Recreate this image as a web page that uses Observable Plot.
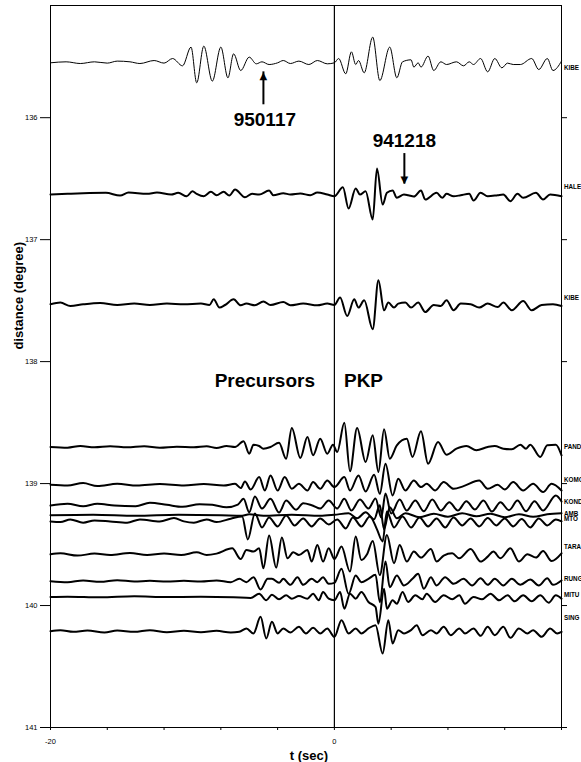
<!DOCTYPE html>
<html><head><meta charset="utf-8">
<script src="https://cdn.jsdelivr.net/npm/d3@7"></script>
<script src="https://cdn.jsdelivr.net/npm/@observablehq/plot@0.6"></script>
<style>html,body{margin:0;padding:0;background:#fff;overflow:hidden}#chart svg{display:block}</style>
</head><body><div id="chart"></div>
<script>
// Stations (as labelled at right edge), trace baseline distance (deg), label distance (deg)
const stations = ["KIBE","HALE","KIBE","PAND","KOMO","KOND","AMB","MTO","TARA","RUNG","MITU","SING"];
const baseDistance = [135.55,136.63,137.53,138.70,139.01,139.18,139.26,139.31,139.58,139.80,139.93,140.21];
const labelDistance = [135.59,136.57,137.48,138.70,138.97,139.15,139.25,139.29,139.52,139.78,139.91,140.10];
const gain = 0.0082; // degrees per amplitude count

// Traces: [time (s), amplitude (counts)] extrema read from the record
const kibe950117 = [[-20,0],[-18.9,1],[-17.9,-0.7],[-16.9,1],[-16.0,-0.3],[-15.3,1.7],[-14.4,1],[-13.7,-0.7],[-12.7,2.3],[-12.0,-0.3],[-11.4,4.3],[-10.7,-3],[-10.1,15.7],[-9.7,-20],[-9.2,16.7],[-8.6,-18.3],[-8.0,15.7],[-7.5,-15],[-7.1,9],[-6.6,-7.7],[-6.0,5.7],[-5.5,-1],[-5.1,1],[-4.6,-1.7],[-4.0,0],[-3.6,2.3],[-3.1,-0.7],[-2.5,1.7],[-1.8,-1.7],[-1.2,2.3],[-0.5,-1],[0,0],[0.3,4.3],[0.8,-11],[1.2,11],[1.5,-1.7],[1.7,2.3],[2.1,-10],[2.7,25.7],[3.2,-17.7],[3.9,15.7],[4.4,-15],[4.8,1],[5.4,3],[5.6,-4.3],[5.9,0],[6.1,-4.3],[6.6,6.7],[7.0,-7.7],[7.5,1],[7.9,-1.7],[8.6,1],[9.1,-3],[9.5,1],[9.8,-1.7],[10.3,4.3],[10.8,-9],[11.3,4.3],[11.8,-5],[12.2,-0.3],[12.6,-1.7],[13.1,-1.7],[13.9,4.3],[14.4,-6.7],[15.0,4.3],[15.4,-7.7],[16.0,1.7]];
const hale941218 = [[-20,0],[-18.8,0.7],[-17.7,1.3],[-16.1,1.7],[-15.1,-1],[-14.5,2],[-13.2,0.7],[-12.5,2],[-11.5,0],[-11.0,1.7],[-10.4,-1.7],[-10.0,3.3],[-9.7,0.7],[-9.2,-1.7],[-8.7,2.7],[-8.3,-0.7],[-7.8,2.7],[-7.4,-1],[-7.0,5],[-6.3,-2.7],[-5.8,0.7],[-5.3,0],[-4.6,4],[-4.3,-0.7],[-3.6,1.3],[-3.1,0],[-2.4,1],[-1.7,-0.7],[-1.2,2],[-0.5,0],[0,-1.7],[0.6,7.3],[1.0,-14],[1.5,6],[1.8,0],[2.2,3.3],[2.7,-25],[3.0,26],[3.4,-10],[3.7,1.7],[4.1,4],[4.4,-3.3],[4.9,0],[5.2,-0.7],[5.6,-2],[6.1,4],[6.4,-5],[7.2,1.7],[7.6,-3.3],[7.9,0.7],[8.4,-1.7],[8.9,-0.7],[9.5,0.7],[9.8,-6],[10.3,1.7],[10.8,-1.7],[11.5,-0.7],[11.9,0],[12.4,-6.7],[12.9,0.7],[13.3,-3.3],[14.2,1.7],[14.7,-5],[15.2,0],[16.0,-1.7]];
const kibe941218 = [[-20,0],[-19.3,1.7],[-18.6,-1.7],[-17.7,0],[-16.5,1.3],[-15.3,-0.7],[-14.1,0.7],[-13.0,-0.7],[-11.8,0.7],[-10.6,0],[-9.4,0.7],[-8.8,-0.7],[-8.5,5],[-8.1,-3.3],[-7.7,-0.7],[-7.1,5],[-6.6,-1],[-6.2,0.7],[-5.6,-1],[-5.0,2.7],[-4.5,-0.7],[-3.6,2.3],[-3.1,-1],[-2.2,0.7],[-1.2,-1],[-0.5,0.7],[0,-0.7],[0.4,6.7],[0.9,-11.7],[1.4,5],[1.7,-3.3],[2.1,4],[2.7,-25],[3.1,24],[3.5,-6],[3.8,1.7],[4.2,-3.3],[4.5,0.7],[5.0,1.7],[5.4,-3.3],[5.9,1.7],[6.4,-7.7],[7.0,-0.7],[7.5,-1.7],[7.9,4],[8.4,-6],[8.9,0.7],[9.6,0],[10.2,-3.3],[10.8,0.7],[11.5,-2.7],[11.9,1.7],[12.5,-6],[13.3,3.3],[13.9,-6],[14.6,-0.7],[15.4,0],[16.0,-1.7]];
const pand = [[-20,0],[-18.8,-0.7],[-17.9,1],[-16.9,-0.3],[-15.8,0.7],[-14.6,-0.3],[-13.4,0.7],[-12.3,-0.7],[-11.1,0.3],[-9.9,-0.3],[-9.0,0.7],[-8.3,-1],[-7.6,1],[-7.0,0],[-6.4,5.7],[-6.0,-6.7],[-5.7,2.3],[-5.3,1],[-5.0,-1.7],[-4.5,0],[-3.9,4.3],[-3.4,-11.7],[-3.0,19],[-2.4,-11],[-1.9,10],[-1.5,-8.3],[-1.0,8.3],[-0.5,-6.7],[-0.1,2.3],[0.2,-5],[0.7,24.3],[1.1,-24.3],[1.6,19],[2.2,-15],[2.7,11.7],[3.1,-25],[3.5,17.7],[3.9,-11.7],[4.4,1.7],[5.1,8.3],[5.5,-10],[6.1,15.7],[6.6,-16.7],[7.3,5],[7.9,-7.7],[8.6,-1.7],[9.3,1],[10.0,-3.3],[10.8,0],[11.3,1],[11.9,-1.7],[12.5,-2.3],[13.1,2.3],[13.5,-1.7],[13.8,2.3],[14.5,-10],[15.0,1.7],[15.6,2.3],[16.0,-8.3]];
const komo = [[-20,0],[-18.8,-0.7],[-17.7,1.7],[-16.7,-1.3],[-15.3,1],[-13.9,-0.7],[-12.3,0.7],[-10.6,-0.7],[-9.2,0.7],[-7.8,-0.7],[-7.0,1],[-6.6,-3.3],[-6.3,3.3],[-5.9,-4.7],[-5.3,7.7],[-4.9,-5.7],[-4.5,9.3],[-4.0,-5.7],[-3.5,7.7],[-3.0,-4],[-2.5,1],[-1.9,-5.7],[-1.5,2.7],[-1.0,-4],[-0.5,4.3],[0,-2.3],[0.7,7.7],[1.1,-5.7],[1.7,9.3],[2.2,-6.7],[2.8,10],[3.2,-9],[3.6,21],[4.1,-10.7],[4.5,6],[5.0,-5.7],[5.6,4.3],[6.1,-2.3],[6.5,1],[7.1,-5.7],[7.7,2.7],[8.4,-4],[9.1,-1.3],[10.2,4.3],[10.8,-4],[11.5,0],[12.0,-4.7],[12.6,2.7],[13.3,-5.7],[14.0,1],[14.7,-7.3],[15.3,1],[16.0,-5.7]];
const kond = [[-20,0],[-18.8,1.7],[-17.7,-0.7],[-16.7,1.7],[-15.5,0],[-14.0,-0.7],[-13.0,2.7],[-11.8,0.7],[-10.7,-1.3],[-9.5,1.3],[-8.6,0.7],[-7.6,-1.7],[-6.8,1],[-6.4,6.7],[-6.0,-6.7],[-5.6,9],[-5.1,-3],[-4.5,6.7],[-3.9,-7],[-3.4,5],[-2.7,-4.3],[-2.2,2.3],[-1.6,0.3],[-1.0,-3],[-0.4,5],[0.2,-3],[0.7,6.7],[1.2,-5],[1.8,6],[2.4,-3],[2.9,7],[3.3,-12],[3.6,12],[4.0,-8],[4.6,6],[5.1,-5],[5.7,5],[6.3,-5.7],[6.9,6],[7.5,-5],[8.1,3.3],[8.7,-5],[9.3,4.3],[9.9,-4],[10.5,5],[11.1,-6],[11.7,3.3],[12.3,-4.7],[12.9,5],[13.5,-5.7],[14.1,4.3],[14.7,-5],[15.6,10],[16.0,4]];
const amb = [[-20,0],[-17,0.5],[-14,-0.5],[-11,0.5],[-8,0],[-6.5,-0.5],[-6.0,1],[-5,-0.5],[-3,0.5],[-1,-0.5],[0,0.5],[1,2],[1.6,-3],[2.2,3],[2.8,-4],[3.2,10],[3.5,-14],[3.9,8],[4.4,-3],[5,2],[6,-2],[7,1.5],[8,-1.5],[9,2],[10,-1],[11,1.5],[12,-2],[13,1],[14,-1.5],[15,1],[16,2]];
const mto = [[-20,0],[-19.3,-0.7],[-18.6,2],[-17.7,-1.3],[-16.9,1],[-15.8,0],[-14.6,-1.3],[-13.7,2],[-12.3,0],[-11.3,3.3],[-10.6,0],[-9.9,-1.3],[-9.0,2],[-8.3,-0.7],[-7.3,2.7],[-6.5,5],[-6.1,-18],[-5.6,8],[-5.1,-6],[-4.6,4],[-4.0,-5],[-3.4,6],[-2.8,-4],[-2.2,3],[-1.6,-5],[-1.0,3],[-0.4,-3],[0.2,2],[0.8,-7],[1.3,4],[1.9,-5],[2.5,5],[3.0,-8],[3.4,-20],[3.7,10],[4.2,-6],[4.8,5],[5.4,-6],[6.0,4],[6.6,-5],[7.2,3],[7.8,-6],[8.4,4],[9.0,-4],[9.6,3],[10.2,-5],[10.8,3.3],[11.4,-4],[12.0,3],[12.6,-5],[13.2,2.3],[13.8,-6],[14.4,3],[15.0,-4],[15.6,2],[16.0,0]];
const tara = [[-20,0],[-19.3,1],[-18.1,-1.3],[-16.9,0.7],[-15.8,-0.7],[-14.4,1.3],[-13.2,-0.7],[-12.0,0.7],[-10.8,-0.7],[-9.7,2],[-9.0,-0.7],[-8.3,0.7],[-7.2,6],[-6.6,-4.7],[-6.2,4.3],[-5.7,2.7],[-5.3,6],[-5.0,-14],[-4.6,18.7],[-4.1,-13.3],[-3.7,16.7],[-3.3,-4],[-2.9,2],[-2.5,-0.7],[-1.9,4.3],[-1.6,-7.3],[-1.2,9.3],[-0.8,-7.3],[-0.4,6],[0,-4.7],[0.5,7.7],[1.1,-17.3],[1.5,17.7],[1.9,-5.7],[2.3,0],[2.7,13.3],[3.2,-20.7],[3.7,19.3],[4.2,-9],[4.6,9.3],[5.1,-7.3],[5.6,2.7],[6.1,-3.3],[6.8,5.3],[7.2,-7.3],[7.7,-1.3],[8.3,1],[8.8,-4],[9.6,5.3],[10.3,-7.3],[10.8,-2.3],[11.2,2.7],[11.7,-4],[12.4,6],[13.0,-7.3],[13.6,0],[14.2,-3.3],[14.7,3.3],[15.3,-6.7],[16.0,1]];
const rung = [[-20,0],[-18.8,-1],[-17.7,0.7],[-16.5,-0.7],[-15.3,1],[-14.1,-0.3],[-13.0,0.3],[-11.8,-0.3],[-10.6,0.3],[-9.4,-0.3],[-8.3,0.7],[-7.3,-1],[-6.7,2.3],[-6.2,-1],[-5.7,4],[-5.2,-8.3],[-4.7,2.3],[-4.4,2.3],[-3.9,-1.7],[-3.6,2.3],[-3.1,-3.7],[-2.6,4],[-2.2,-3.7],[-1.6,2.3],[-1.2,-1],[-0.8,4],[-0.4,-2.7],[0,-1.7],[0.5,12.3],[1.0,-12.7],[1.5,5.7],[1.9,-1],[2.4,2.3],[2.9,6.3],[3.2,-21],[3.6,19.7],[3.9,-6],[4.4,5.7],[4.9,-4.3],[5.5,2.3],[5.9,7.3],[6.3,-7.7],[6.8,4],[7.2,-4.3],[7.8,4],[8.4,-2.7],[9.1,2.3],[9.7,-4.3],[10.3,3],[10.8,-3.7],[11.3,2.3],[11.9,-4.3],[12.5,2.3],[13.1,-3.7],[13.8,1.7],[14.4,-4.3],[15.0,3],[15.4,-3.7],[16.0,0.7]];
const mitu = [[-20,0],[-18.8,0.3],[-16.5,-0.3],[-14.1,0.7],[-11.8,0],[-9.4,0.3],[-7.1,-0.3],[-5.9,-1],[-5.3,3.3],[-4.8,-3.3],[-4.4,2.3],[-3.9,-2.3],[-3.4,1.7],[-3.0,-1.7],[-2.5,1],[-1.9,-1.7],[-1.5,3.3],[-1.1,-3.3],[-0.8,5],[-0.4,-1.7],[0,-3.3],[0.4,5],[0.7,-11.7],[1.1,3.3],[1.5,-1.7],[1.9,5],[2.4,-5],[2.9,-10],[3.1,-26.7],[3.5,8.3],[3.7,-11.7],[4.1,-3.3],[4.4,-6.7],[4.8,5],[5.2,-5],[5.7,1.7],[6.2,-2.3],[6.5,3.3],[7.1,-5],[7.7,1.7],[8.3,-2.3],[8.8,1.7],[9.2,-6.7],[9.8,0],[10.4,-2.3],[11.0,3.3],[11.6,-3.3],[12.2,1.7],[12.7,-4.3],[13.3,1.7],[13.9,-4.3],[14.5,1.7],[15.1,-5.7],[15.6,1.7],[16.0,-1.7]];
const sing = [[-20,0],[-19.3,1],[-18.4,-0.7],[-17.4,0.7],[-16.2,-1.3],[-15.3,0.7],[-14.1,-0.7],[-13.0,1],[-11.8,-1],[-10.6,0.3],[-9.4,-1],[-8.3,0.3],[-7.3,-1.3],[-6.7,-0.7],[-6.2,2.7],[-5.7,-2.3],[-5.2,14.3],[-4.8,-7.3],[-4.4,9.3],[-4.0,-2.3],[-3.6,2.7],[-3.1,-1.3],[-2.5,4.3],[-2.0,-2.3],[-1.5,3.3],[-1.0,-2.3],[-0.5,2.7],[0,-5.7],[0.5,11],[1.0,-2.3],[1.5,2.7],[1.9,-2.3],[2.4,2.7],[2.9,6],[3.4,-22.3],[3.8,11],[4.1,-12.3],[4.5,1],[4.9,-2.3],[5.4,1],[5.8,6],[6.2,-4],[6.8,1],[7.2,-2.3],[7.7,4.3],[8.2,-4],[8.8,2.7],[9.2,-2.3],[9.8,2.7],[10.3,-4.7],[10.8,4.3],[11.3,-4],[11.9,4.3],[12.4,-6.7],[13.0,2.7],[13.6,-2.3],[14.0,1],[14.6,-5.7],[15.2,2.7],[15.7,-2.3],[16.0,-0.7]];
const traces = [kibe950117, hale941218, kibe941218, pand, komo, kond, amb, mto, tara, rung, mitu, sing];

// Axis ticks
const distanceTicks = [136,137,138,139,140,141];
const timeTicks = [-20,-16,-12,-8,-4,0,4,8,12,16];
const timeTickLabels = {"-20":"-20","0":"0"};

// Annotations
const annotationText = ["950117","941218","Precursors","PKP"];
const annotationT = [-4.9, 4.93, -4.9, 2.05];
const annotationD = [136.07, 136.24, 138.21, 138.21];
const arrowT = [-5.0, 4.93];
const arrowFrom = [135.89, 136.29];
const arrowTo = [135.62, 136.54];
const arrowDir = ["up","down"];

const rows = [];
traces.forEach((tr, i) => tr.forEach(([t, a]) => rows.push({i, t, d: baseDistance[i] - a * gain})));
const labels = stations.map((s, i) => ({s, d: labelDistance[i]}));
const anns = annotationText.map((s, i) => ({s, t: annotationT[i], d: annotationD[i]}));
const arrows = arrowT.map((t, i) => ({t, from: arrowFrom[i], to: arrowTo[i], dir: arrowDir[i]}));

const chart = Plot.plot({
  width: 581, height: 762,
  marginLeft: 50, marginRight: 20, marginTop: 5, marginBottom: 35,
  style: {fontFamily: "'Liberation Sans', Arial, sans-serif", background: "#fff", color: "#000"},
  x: {domain: [-20, 16]},
  y: {domain: [135.08, 141], reverse: true},
  marks: [
    Plot.frame({stroke: "#000", strokeWidth: 1}),
    Plot.ruleX([0], {stroke: "#000", strokeWidth: 1.2}),
    Plot.axisY({ticks: distanceTicks, tickSize: 10, tickPadding: 3, fontSize: 7.5, label: null, tickFormat: d => String(d)}),
    Plot.axisY({anchor: "right", ticks: distanceTicks, tickSize: 5, tickFormat: () => "", label: null}),
    Plot.axisX({ticks: timeTicks, tickSize: 3, tickPadding: 8, fontSize: 7.5, label: null, tickFormat: d => timeTickLabels[String(d)] ?? ""}),
    Plot.line(rows.filter(r => r.i === 0), {x: "t", y: "d", curve: "monotone-x", stroke: "#000", strokeWidth: 1}),
    Plot.line(rows.filter(r => r.i > 0), {x: "t", y: "d", z: "i", curve: "monotone-x", stroke: "#000", strokeWidth: 2}),
    Plot.text(labels, {x: () => 16, y: "d", text: "s", dx: 2.5, textAnchor: "start", fontSize: 6.3, fontWeight: "bold"}),
    Plot.text(anns, {x: "t", y: "d", text: "s", lineAnchor: "bottom", fontSize: 19, fontWeight: "bold"}),
    Plot.link(arrows, {x1: "t", x2: "t", y1: "from", y2: "to", stroke: "#000", strokeWidth: 2}),
    Plot.text(arrows.filter(a => a.dir === "up"), {x: "t", y: "to", text: () => "\u25B2", fontSize: 10, dy: 4.5, fontFamily: "DejaVu Sans"}),
    Plot.text(arrows.filter(a => a.dir === "down"), {x: "t", y: "to", text: () => "\u25BC", fontSize: 10, dy: -3.5, fontFamily: "DejaVu Sans"}),
    Plot.text([{d: 137.46}], {frameAnchor: "left", y: "d", dx: -32, rotate: -90, textAnchor: "middle", text: () => "distance (degree)", fontSize: 13, fontWeight: "bold"}),
    Plot.text([{t: -1.8}], {x: "t", frameAnchor: "bottom", dy: 32, lineAnchor: "bottom", text: () => "t (sec)", fontSize: 13, fontWeight: "bold"})
  ]
});
document.getElementById("chart").append(chart);
</script>
</body></html>
